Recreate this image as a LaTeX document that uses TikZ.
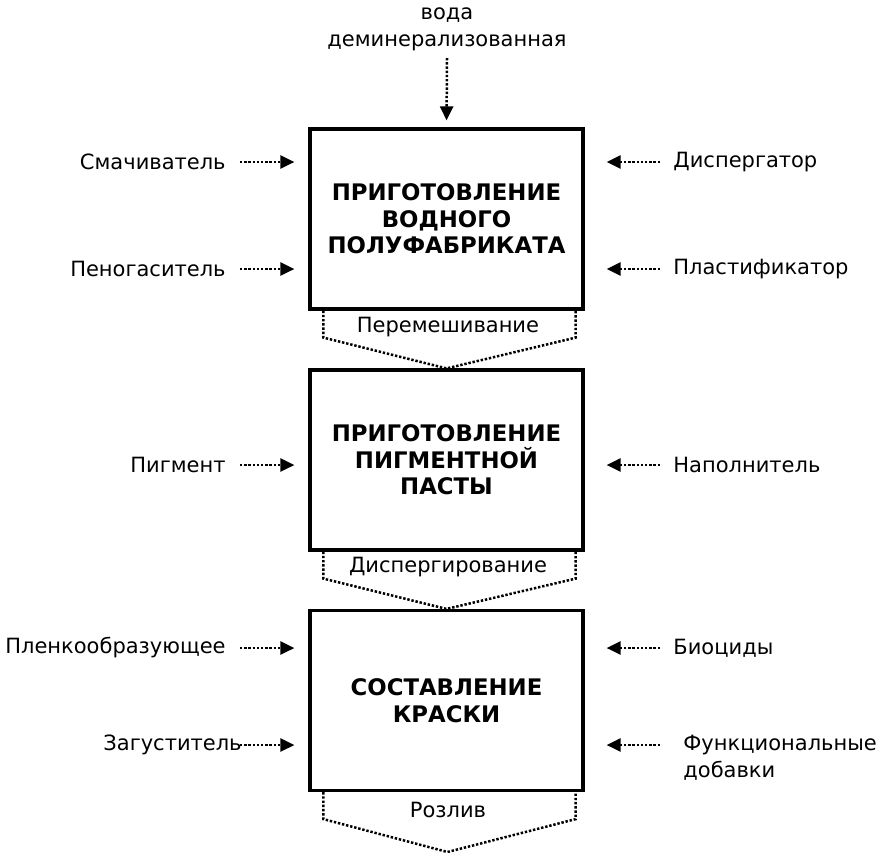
\documentclass[tikz,border=0pt]{standalone}
\usepackage{fontspec}
\setmainfont{DejaVu Sans}
\usetikzlibrary{positioning, arrows.meta}

\begin{document}
\begin{tikzpicture}[x=0.5pt, y=-0.5pt, font=\fontsize{10.5}{13.5}\selectfont,
    stage/.style={draw, line width=1.6pt, minimum width=136.5pt, minimum height=90pt, align=center, font=\bfseries\fontsize{11.4}{13.3}\selectfont},
    feed/.style={line width=1.25pt, dash pattern=on 1.2pt off 0.9pt, -{Triangle[length=7pt, width=6.5pt]}},
    link/.style={line width=1.25pt, dash pattern=on 1.2pt off 0.9pt},
    lbl/.style={inner sep=0pt}]
        \useasboundingbox (0,0) rectangle (886,852);

        \node[stage] (b1) at (446.5,219) {ПРИГОТОВЛЕНИЕ\\ВОДНОГО\\ПОЛУФАБРИКАТА};
        \node[stage] (b2) at (446.5,460) {ПРИГОТОВЛЕНИЕ\\ПИГМЕНТНОЙ\\ПАСТЫ};
        \node[stage] (b3) at (446.5,700.5) {СОСТАВЛЕНИЕ\\КРАСКИ};

        % Water from the top
        \node[lbl, align=center] (w) at (447,29) {вода\\деминерализованная};
        \coordinate (w0) at (447,58);
        \draw[feed, shorten >=3.5pt] (w0) -- (b1.north);

        % Left inputs
        \node[lbl, anchor=east] (sm) at (226,162) {Смачиватель};
        \node[lbl, anchor=east] (pe) at (226,269) {Пеногаситель};
        \node[lbl, anchor=east] (pg) at (226,465) {Пигмент};
        \node[lbl, anchor=east] (pl) at (226,648) {Пленкообразующее};
        \node[lbl, anchor=east] (za) at (242,745) {Загуститель};

        \foreach \y/\b in {162/b1, 269/b1, 465/b2, 648/b3, 745/b3} {
            \coordinate (l\y) at (240,\y);
            \draw[feed, shorten >=7pt] (l\y) -- (l\y -| \b.west);
        }

        % Right inputs
        \node[lbl, anchor=west] (di) at (673,162) {Диспергатор};
        \node[lbl, anchor=west] (ps) at (673,269) {Пластификатор};
        \node[lbl, anchor=west] (na) at (673,465) {Наполнитель};
        \node[lbl, anchor=west] (bi) at (673,648) {Биоциды};
        \node[lbl, anchor=north west, align=left] (fu) at (683,735) {Функциональные\\добавки};

        \foreach \y/\b in {162/b1, 269/b1, 465/b2, 648/b3, 745/b3} {
            \coordinate (r\y) at (660,\y);
            \draw[feed, shorten >=11pt] (r\y) -- (r\y -| \b.east);
        }

        % Steps between the boxes
        \draw[link] (b1.south west) ++(15,0) -- ++(0,27) -- (b2.north) -- ([xshift=-4.5pt, yshift=-13.5pt]b1.south east) -- ([xshift=-4.5pt]b1.south east);
        \node (m1) at (448,327) {Перемешивание};

        \draw[link] (b2.south west) ++(15,0) -- ++(0,27) -- (b3.north) -- ([xshift=-4.5pt, yshift=-13.5pt]b2.south east) -- ([xshift=-4.5pt]b2.south east);
        \node (m2) at (448,567) {Диспергирование};

        \coordinate (end) at (447.5,852);
        \draw[link] (b3.south west) ++(15,0) -- ++(0,27) -- (end) -- ([xshift=-4.5pt, yshift=-13.5pt]b3.south east) -- ([xshift=-4.5pt]b3.south east);
        \node (m3) at (448,810) {Розлив};
\end{tikzpicture}
\end{document}
